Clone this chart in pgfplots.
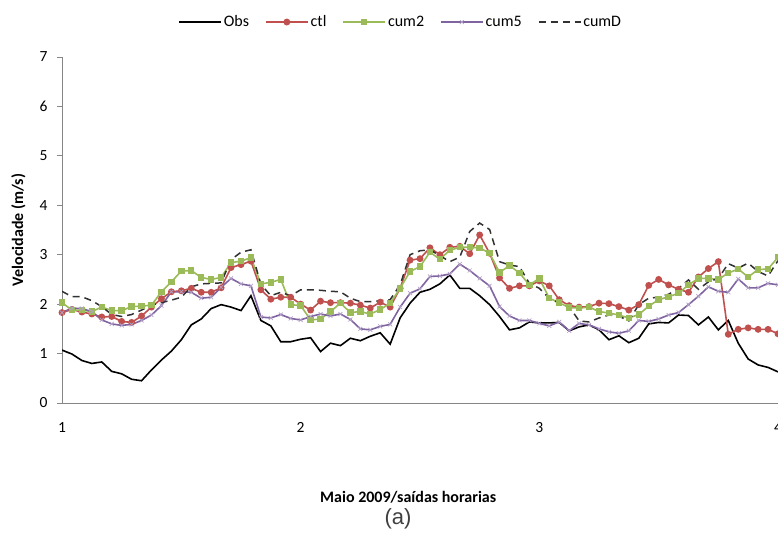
\documentclass[border=0pt]{standalone}
\usepackage{pgfplots}
\pgfplotsset{compat=1.18}
\usepackage{pgfplotstable}
\usepackage{fontspec}
\setmainfont{Carlito}
\newfontfamily\arialfont{Liberation Sans}
\definecolor{ctlred}{RGB}{192,80,77}
\definecolor{cumgreen}{RGB}{155,187,89}
\definecolor{cumpurple}{RGB}{128,100,162}
\definecolor{axgray}{RGB}{134,134,134}
\definecolor{dashgray}{RGB}{50,50,50}
\pgfplotstableread{
h obs ctl cum2 cum5 cumD
0 1.07 1.83 2.03 1.83 2.26
1 0.99 1.89 1.88 1.92 2.15
2 0.86 1.84 1.88 1.91 2.15
3 0.80 1.80 1.85 1.85 2.07
4 0.83 1.74 1.94 1.68 1.95
5 0.64 1.75 1.87 1.60 1.79
6 0.59 1.65 1.87 1.57 1.75
7 0.48 1.63 1.95 1.59 1.79
8 0.45 1.76 1.96 1.67 1.88
9 0.67 1.94 1.98 1.78 1.98
10 0.87 2.11 2.25 1.97 2.03
11 1.05 2.25 2.45 2.25 2.08
12 1.28 2.27 2.67 2.25 2.14
13 1.58 2.32 2.68 2.24 2.35
14 1.70 2.24 2.54 2.12 2.41
15 1.91 2.24 2.50 2.14 2.42
16 1.99 2.33 2.54 2.34 2.43
17 1.94 2.74 2.84 2.52 2.90
18 1.87 2.80 2.87 2.41 3.05
19 2.17 2.87 2.94 2.37 3.10
20 1.67 2.29 2.41 1.74 2.40
21 1.56 2.10 2.44 1.72 2.17
22 1.24 2.14 2.50 1.79 2.24
23 1.24 2.14 1.99 1.71 2.17
24 1.29 2.00 1.97 1.68 2.29
25 1.32 1.88 1.68 1.75 2.29
26 1.04 2.06 1.70 1.80 2.28
27 1.21 2.03 1.85 1.76 2.26
28 1.16 2.03 2.02 1.80 2.25
29 1.31 2.02 1.83 1.69 2.12
30 1.26 1.98 1.85 1.50 2.05
31 1.35 1.92 1.80 1.48 2.05
32 1.42 2.04 1.89 1.55 2.07
33 1.19 1.94 2.02 1.59 2.09
34 1.72 2.32 2.32 1.94 2.39
35 2.02 2.89 2.66 2.22 3.00
36 2.24 2.92 2.76 2.31 3.08
37 2.30 3.14 3.05 2.56 3.10
38 2.41 3.00 2.91 2.57 2.98
39 2.59 3.15 3.09 2.61 2.86
40 2.32 3.17 3.15 2.81 2.95
41 2.32 3.02 3.15 2.68 3.47
42 2.17 3.40 3.14 2.52 3.64
43 1.99 3.03 3.03 2.37 3.51
44 1.75 2.53 2.64 1.95 2.86
45 1.48 2.32 2.78 1.76 2.79
46 1.52 2.37 2.63 1.67 2.76
47 1.64 2.37 2.39 1.67 2.42
48 1.62 2.47 2.52 1.61 2.32
49 1.62 2.37 2.12 1.56 2.12
50 1.63 2.09 2.03 1.64 2.02
51 1.46 1.97 1.93 1.46 1.95
52 1.54 1.94 1.92 1.61 1.66
53 1.58 1.95 1.94 1.58 1.64
54 1.48 2.02 1.85 1.50 1.72
55 1.28 2.01 1.82 1.44 1.78
56 1.36 1.95 1.78 1.41 1.76
57 1.22 1.88 1.72 1.46 1.66
58 1.31 1.99 1.79 1.67 1.99
59 1.60 2.38 1.96 1.65 2.12
60 1.63 2.50 2.09 1.70 2.14
61 1.62 2.39 2.15 1.78 2.20
62 1.78 2.30 2.22 1.83 2.32
63 1.77 2.24 2.39 1.99 2.49
64 1.58 2.55 2.52 2.16 2.30
65 1.74 2.72 2.52 2.35 2.45
66 1.48 2.86 2.50 2.26 2.52
67 1.67 1.39 2.63 2.24 2.82
68 1.21 1.49 2.71 2.51 2.73
69 0.89 1.52 2.55 2.33 2.83
70 0.77 1.49 2.70 2.33 2.66
71 0.72 1.49 2.71 2.42 2.57
72 0.63 1.40 2.95 2.39 2.88
}\datatable
\begin{document}
\begin{tikzpicture}[x=1pt,y=1pt]
\useasboundingbox (0,0) rectangle (778,534);
\begin{axis}[
  at={(62pt,131pt)}, anchor=south west,
  scale only axis, width=716pt, height=346pt,
  xmin=0, xmax=72, ymin=0, ymax=7,
  axis x line*=bottom, axis y line*=left,
  axis line style={axgray, line width=0.8pt},
  xtick={0,24,48,72}, xticklabels={1,2,3,4},
  ytick={0,1,2,3,4,5,6,7},
  tick align=outside,
  major tick length=5pt,
  x tick style={draw=none},
  y tick style={axgray, line width=0.8pt},
  /pgf/number format/assume math mode=true,
  ticklabel style={font=\fontsize{15.5}{17}\selectfont, text=black},
  xticklabel style={yshift=-11pt},
  yticklabel style={xshift=-6pt},
  every axis x label/.style={at={(axis description cs:0.4835,0)}, anchor=center, yshift=-94pt, font=\bfseries\fontsize{16}{18}\selectfont},
  every axis y label/.style={at={(axis description cs:-0.061,0.5)}, anchor=center, rotate=90, font=\bfseries\fontsize{16}{18}\selectfont},
  xlabel={Maio 2009/saídas horarias},
  ylabel={Velocidade (m/s)},
  legend columns=5,
  legend style={draw=none, fill=none, at={(0.473,1.101)}, anchor=center,
    font=\fontsize{16}{18}\selectfont,
    /tikz/every even column/.append style={column sep=14pt}},
  legend image code/.code={\draw[mark repeat=2,mark phase=2,#1] plot coordinates {(0pt,0pt) (21pt,0pt) (42pt,0pt)};},
]
\addplot[black, line width=1.6pt, mark=none] table[x=h, y=obs] {\datatable};
\addlegendentry{Obs}
\addplot[ctlred, line width=1.6pt, mark=*, mark size=2.6pt, mark options={fill=ctlred, draw=ctlred}] table[x=h, y=ctl] {\datatable};
\addlegendentry{ctl}
\addplot[cumgreen, line width=1.6pt, mark=square*, mark size=2.4pt, mark options={fill=cumgreen, draw=cumgreen}] table[x=h, y=cum2] {\datatable};
\addlegendentry{cum2}
\addplot[cumpurple, line width=1.6pt, mark=x, mark size=2.8pt, mark options={draw=cumpurple!60, line width=0.7pt}] table[x=h, y=cum5] {\datatable};
\addlegendentry{cum5}
\addplot[dashgray, line width=1.5pt, dash pattern=on 7pt off 5pt, mark=none] table[x=h, y=cumD] {\datatable};
\addlegendentry{cumD}
\end{axis}
\node[font=\arialfont\fontsize{22}{24}\selectfont, text={rgb,255:red,64;green,64;blue,64}] at (398,15) {(a)};
\end{tikzpicture}
\end{document}
